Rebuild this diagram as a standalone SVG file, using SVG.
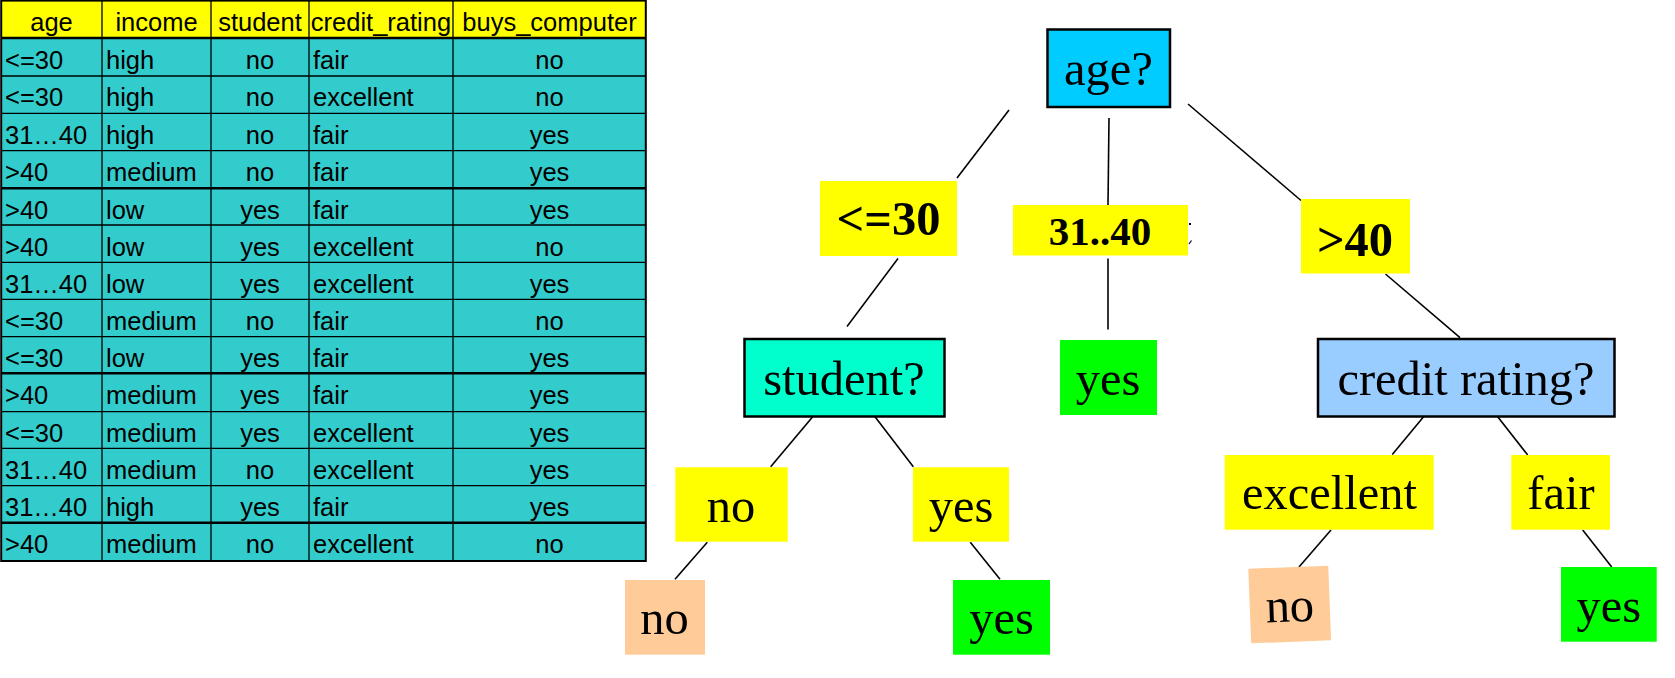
<svg xmlns="http://www.w3.org/2000/svg" width="1675" height="678" viewBox="0 0 1675 678">
<style>
.tt{font-family:"Liberation Sans",Arial,sans-serif;font-size:25.5px;fill:#000}
.c{text-anchor:middle}
.grid{stroke:#000;stroke-width:1.3;fill:none}
.thick{stroke:#000;stroke-width:2.5;fill:none}
.edge{stroke:#000;stroke-width:1.6;fill:none}
.nt{font-family:"Liberation Serif","Times New Roman",serif;font-size:48.5px;fill:#000;text-anchor:middle}
.bt{font-family:"Liberation Serif","Times New Roman",serif;font-weight:bold;fill:#000;text-anchor:middle}
.q{stroke:#000;stroke-width:2.5}
.lab{fill:#FFFF00}
.leafno{fill:#FFCC99}
.leafyes{fill:#00FF00}
</style>
<rect width="1675" height="678" fill="#fff"/>
<g id="table">
<rect x="1" y="0" width="645" height="38" fill="#FFFF00"/>
<rect x="1" y="38" width="645" height="523" fill="#33CCCC"/>
<g class="grid">
<line x1="102" y1="0" x2="102" y2="561"/>
<line x1="211" y1="0" x2="211" y2="561"/>
<line x1="309" y1="0" x2="309" y2="561"/>
<line x1="453" y1="0" x2="453" y2="561"/>
<line x1="1" y1="76" x2="646" y2="76"/>
<line x1="1" y1="113.3" x2="646" y2="113.3"/>
<line x1="1" y1="150.7" x2="646" y2="150.7"/>
<line x1="1" y1="225" x2="646" y2="225"/>
<line x1="1" y1="262.3" x2="646" y2="262.3"/>
<line x1="1" y1="299.3" x2="646" y2="299.3"/>
<line x1="1" y1="336.7" x2="646" y2="336.7"/>
<line x1="1" y1="411.7" x2="646" y2="411.7"/>
<line x1="1" y1="448.3" x2="646" y2="448.3"/>
<line x1="1" y1="485.7" x2="646" y2="485.7"/>
</g>
<g class="thick">
<line x1="1" y1="38" x2="646" y2="38"/>
<line x1="1" y1="188.3" x2="646" y2="188.3"/>
<line x1="1" y1="373.3" x2="646" y2="373.3"/>
<line x1="1" y1="522.7" x2="646" y2="522.7"/>
<rect x="1.2" y="0.6" width="644.6" height="560.4" stroke-width="2"/>
</g>
<g class="tt">
<text class="c" x="51.5" y="30.7">age</text>
<text class="c" x="156.5" y="30.7">income</text>
<text class="c" x="260" y="30.7">student</text>
<text class="c" x="381" y="30.7">credit_rating</text>
<text class="c" x="549.5" y="30.7">buys_computer</text>

<text x="5" y="68.5">&lt;=30</text><text x="106" y="68.5">high</text><text class="c" x="260" y="68.5">no</text><text x="313" y="68.5">fair</text><text class="c" x="549.5" y="68.5">no</text>
<text x="5" y="106">&lt;=30</text><text x="106" y="106">high</text><text class="c" x="260" y="106">no</text><text x="313" y="106">excellent</text><text class="c" x="549.5" y="106">no</text>
<text x="5" y="143.5">31…40</text><text x="106" y="143.5">high</text><text class="c" x="260" y="143.5">no</text><text x="313" y="143.5">fair</text><text class="c" x="549.5" y="143.5">yes</text>
<text x="5" y="181">&gt;40</text><text x="106" y="181">medium</text><text class="c" x="260" y="181">no</text><text x="313" y="181">fair</text><text class="c" x="549.5" y="181">yes</text>
<text x="5" y="218.5">&gt;40</text><text x="106" y="218.5">low</text><text class="c" x="260" y="218.5">yes</text><text x="313" y="218.5">fair</text><text class="c" x="549.5" y="218.5">yes</text>
<text x="5" y="255.5">&gt;40</text><text x="106" y="255.5">low</text><text class="c" x="260" y="255.5">yes</text><text x="313" y="255.5">excellent</text><text class="c" x="549.5" y="255.5">no</text>
<text x="5" y="292.5">31…40</text><text x="106" y="292.5">low</text><text class="c" x="260" y="292.5">yes</text><text x="313" y="292.5">excellent</text><text class="c" x="549.5" y="292.5">yes</text>
<text x="5" y="330">&lt;=30</text><text x="106" y="330">medium</text><text class="c" x="260" y="330">no</text><text x="313" y="330">fair</text><text class="c" x="549.5" y="330">no</text>
<text x="5" y="367">&lt;=30</text><text x="106" y="367">low</text><text class="c" x="260" y="367">yes</text><text x="313" y="367">fair</text><text class="c" x="549.5" y="367">yes</text>
<text x="5" y="404">&gt;40</text><text x="106" y="404">medium</text><text class="c" x="260" y="404">yes</text><text x="313" y="404">fair</text><text class="c" x="549.5" y="404">yes</text>
<text x="5" y="441.5">&lt;=30</text><text x="106" y="441.5">medium</text><text class="c" x="260" y="441.5">yes</text><text x="313" y="441.5">excellent</text><text class="c" x="549.5" y="441.5">yes</text>
<text x="5" y="478.5">31…40</text><text x="106" y="478.5">medium</text><text class="c" x="260" y="478.5">no</text><text x="313" y="478.5">excellent</text><text class="c" x="549.5" y="478.5">yes</text>
<text x="5" y="516">31…40</text><text x="106" y="516">high</text><text class="c" x="260" y="516">yes</text><text x="313" y="516">fair</text><text class="c" x="549.5" y="516">yes</text>
<text x="5" y="553">&gt;40</text><text x="106" y="553">medium</text><text class="c" x="260" y="553">no</text><text x="313" y="553">excellent</text><text class="c" x="549.5" y="553">no</text>
</g>
</g>
<g id="connectors" class="edge">
<line x1="1009" y1="110" x2="957" y2="178"/>
<line x1="898" y1="258.5" x2="847" y2="326.5"/>
<line x1="1109" y1="118" x2="1108" y2="205"/>
<line x1="1108" y1="258.5" x2="1108" y2="329.5"/>
<line x1="1188" y1="104" x2="1301" y2="200.5"/>
<line x1="1385.5" y1="274" x2="1460" y2="337.7"/>
<line x1="812.7" y1="416.7" x2="770.7" y2="466.7"/>
<line x1="875" y1="416.7" x2="913.3" y2="466.7"/>
<line x1="707.3" y1="542.3" x2="675" y2="579.3"/>
<line x1="970.3" y1="542.3" x2="1000" y2="579.3"/>
<line x1="1424" y1="416.3" x2="1392.3" y2="454.5"/>
<line x1="1497.7" y1="416.7" x2="1527.7" y2="455"/>
<line x1="1331" y1="530" x2="1299" y2="567"/>
<line x1="1582.7" y1="530" x2="1611.7" y2="567"/>
</g>
<g id="node-age">
<rect class="q" x="1047.5" y="29.5" width="122.5" height="77.5" fill="#00CCFF"/>
<text class="nt" x="1108.5" y="85">age?</text>
</g>
<g id="label-le30">
<rect class="lab" x="820" y="181" width="137" height="75"/>
<text class="bt" x="888.5" y="235" font-size="48.5">&lt;=30</text>
</g>
<g id="label-31-40">
<rect class="lab" x="1013" y="205" width="175" height="50.5"/>
<text class="bt" x="1100" y="245" font-size="41">31..40</text>
<rect x="1189" y="223" width="2" height="2" fill="#000"/>
<line x1="1189" y1="244" x2="1191.5" y2="240.5" stroke="#000" stroke-width="1.2"/>
</g>
<g id="label-gt40">
<rect class="lab" x="1301" y="199" width="109" height="74.5"/>
<text class="bt" x="1355" y="256" font-size="48.5">&gt;40</text>
</g>
<g id="node-student">
<rect class="q" x="744.5" y="339" width="200" height="77.5" fill="#00FFCC"/>
<text class="nt" x="844" y="395">student?</text>
</g>
<g id="leaf-yes-mid">
<rect class="leafyes" x="1060" y="340" width="97" height="75"/>
<text class="nt" x="1108" y="395">yes</text>
</g>
<g id="node-credit">
<rect class="q" x="1318" y="339" width="296.5" height="77.5" fill="#99CCFF"/>
<text class="nt" x="1466" y="395">credit rating?</text>
</g>
<g id="label-no">
<rect class="lab" x="675.3" y="467.3" width="112.4" height="74.4"/>
<text class="nt" x="731" y="522.3">no</text>
</g>
<g id="label-yes">
<rect class="lab" x="913" y="467.3" width="96" height="74.4"/>
<text class="nt" x="961" y="522.3">yes</text>
</g>
<g id="label-excellent">
<rect class="lab" x="1224.7" y="455" width="209" height="74.7"/>
<text class="nt" x="1329.5" y="509.3">excellent</text>
</g>
<g id="label-fair">
<rect class="lab" x="1511.3" y="455" width="98.7" height="74.7"/>
<text class="nt" x="1561" y="509.3">fair</text>
</g>
<g id="leaf-no-left">
<rect class="leafno" x="625" y="580" width="80" height="74.7"/>
<text class="nt" x="664.5" y="634.3">no</text>
</g>
<g id="leaf-yes-left">
<rect class="leafyes" x="953" y="580" width="97" height="74.7"/>
<text class="nt" x="1001.5" y="634.3">yes</text>
</g>
<g id="leaf-no-right" transform="translate(1289.7,604.5) rotate(-2.2)">
<rect class="leafno" x="-40" y="-37.35" width="80" height="74.7"/>
<text class="nt" x="0" y="17.2">no</text>
</g>
<g id="leaf-yes-right">
<rect class="leafyes" x="1561" y="567" width="95.7" height="74.7"/>
<text class="nt" x="1608.8" y="621.7">yes</text>
</g>
</svg>
